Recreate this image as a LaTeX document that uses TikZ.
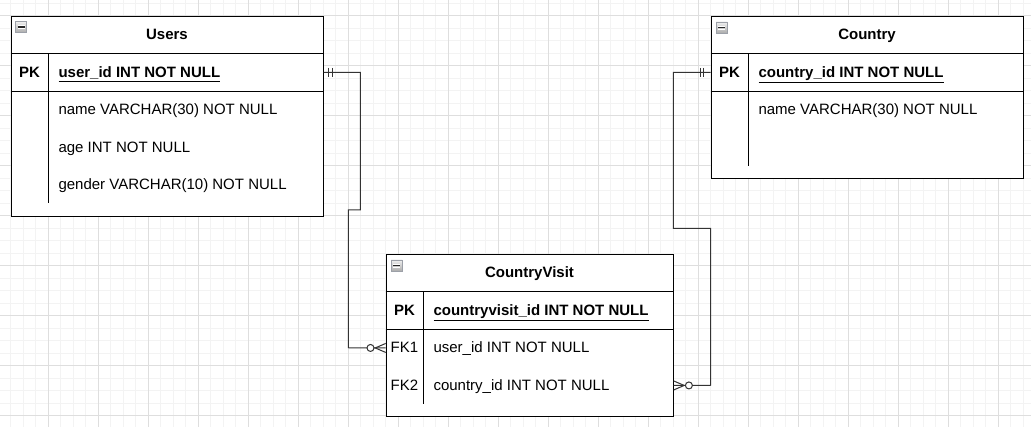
\documentclass[tikz,border=0pt]{standalone}
\usepackage{fontspec}
\setmainfont{Liberation Sans}
\usetikzlibrary{calc}
\definecolor{gridminor}{HTML}{F3F3F3}
\definecolor{gridmajor}{HTML}{DEDEDE}
\definecolor{conncol}{HTML}{333333}
\definecolor{iconedge}{HTML}{9CA0A8}
\begin{document}
\begin{tikzpicture}[x=1pt,y=-1pt,
  tablebox/.style={draw=black, line width=1pt, fill=white, rectangle, inner sep=0pt, anchor=north west},
  rowbox/.style={rectangle, inner sep=0pt, anchor=north west, minimum height=37.5pt},
  sep/.style={draw=black, line width=1pt},
  conn/.style={draw=conncol, line width=1pt},
  txt/.style={inner sep=0pt, text height=13.6pt, text depth=3.2pt, font=\fontsize{15}{18}\selectfont},
  titletxt/.style={txt, font=\fontsize{15}{18}\selectfont\bfseries},
  keytxt/.style={txt},
  fieldtxt/.style={txt, anchor=west},
  collapseicon/.pic={
    \shade[top color=white!88!gray, bottom color=gray!65] (0,0) rectangle (11,11);
    \draw[iconedge, line width=0.8pt] (0,0) rectangle (11,11);
    \draw[white, line width=0.8pt] (2,4) -- (9,4) (2,7) -- (9,7);
    \draw[black!85, line width=1.4pt] (2,5.5) -- (9,5.5);
  }]
% background and bounding box
\fill[white] (0,0) rectangle (1031,427);
\useasboundingbox (0,0) rectangle (1031,427);
% grid
\foreach \i in {0,...,83} \draw[gridminor, line width=1pt] ({-1.7+12.5*\i},0) -- ++(0,427);
\foreach \i in {0,...,34} \draw[gridminor, line width=1pt] (0,{3.5+12.5*\i}) -- ++(1031,0);
\foreach \i in {0,...,21} \draw[gridmajor, line width=1pt] ({-1.7+50*\i},0) -- ++(0,427);
\foreach \i in {0,...,8} \draw[gridmajor, line width=1pt] (0,{16+50*\i}) -- ++(1031,0);

% ---------------- Users ----------------
\node[tablebox, minimum width=312.6pt, minimum height=200pt] (users) at (10.7,16) {};
\node[rowbox, minimum width=312.6pt] (usersPK) at (10.7,53.5) {};
\draw[sep] (usersPK.north west) -- (usersPK.north east);
\draw[sep] (usersPK.south west) -- (usersPK.south east);
\draw[sep] (48.3,53.5) -- (48.3,203.5);
\pic at (15.5,21.5) {collapseicon};
\node[titletxt] (usersTitle) at (167,34.8) {Users};
\node[keytxt, font=\fontsize{15}{18}\selectfont\bfseries] (usersPKk) at (29.5,72.3) {PK};
\node[fieldtxt, font=\fontsize{15}{18}\selectfont\bfseries] (usersPKf) at (58.3,72.3) {\underline{user\_id INT NOT NULL}};
\node[fieldtxt] (usersF1) at (58.3,109.8) {name VARCHAR(30) NOT NULL};
\node[fieldtxt] (usersF2) at (58.3,147.3) {age INT NOT NULL};
\node[fieldtxt] (usersF3) at (58.3,184.8) {gender VARCHAR(10) NOT NULL};

% ---------------- Country ----------------
\node[tablebox, minimum width=312.6pt, minimum height=162.5pt] (country) at (710.7,16) {};
\node[rowbox, minimum width=312.6pt] (countryPK) at (710.7,53.5) {};
\draw[sep] (countryPK.north west) -- (countryPK.north east);
\draw[sep] (countryPK.south west) -- (countryPK.south east);
\draw[sep] (748.3,53.5) -- (748.3,166);
\pic at (716,22) {collapseicon};
\node[titletxt] (countryTitle) at (867,34.8) {Country};
\node[keytxt, font=\fontsize{15}{18}\selectfont\bfseries] (countryPKk) at (729.5,72.3) {PK};
\node[fieldtxt, font=\fontsize{15}{18}\selectfont\bfseries] (countryPKf) at (758.3,72.3) {\underline{country\_id INT NOT NULL}};
\node[fieldtxt] (countryF1) at (758.3,109.8) {name VARCHAR(30) NOT NULL};

% ---------------- CountryVisit ----------------
\node[tablebox, minimum width=287.6pt, minimum height=162.5pt] (cv) at (385.7,254) {};
\node[rowbox, minimum width=287.6pt] (cvPK) at (385.7,291.5) {};
\node[rowbox, minimum width=287.6pt] (cvFK1) at (385.7,329) {};
\node[rowbox, minimum width=287.6pt] (cvFK2) at (385.7,366.5) {};
\draw[sep] (cvPK.north west) -- (cvPK.north east);
\draw[draw=black, line width=1.6pt] (cvPK.south west) -- (cvPK.south east);
\draw[sep] (423.3,291.5) -- (423.3,404);
\pic at (391,260) {collapseicon};
\node[titletxt] (cvTitle) at (529.5,272.8) {CountryVisit};
\node[keytxt, font=\fontsize{15}{18}\selectfont\bfseries] (cvPKk) at (404.5,310.3) {PK};
\node[fieldtxt, font=\fontsize{15}{18}\selectfont\bfseries] (cvPKf) at (433.3,310.3) {\underline{countryvisit\_id INT NOT NULL}};
\node[keytxt] (cvFK1k) at (404.5,347.8) {FK1};
\node[fieldtxt] (cvFK1f) at (433.3,347.8) {user\_id INT NOT NULL};
\node[keytxt] (cvFK2k) at (404.5,385.3) {FK2};
\node[fieldtxt] (cvFK2f) at (433.3,385.3) {country\_id INT NOT NULL};

% ---------------- connectors ----------------
\coordinate (j1) at (360.3,210);
\coordinate (j2) at (348.3,347.75);
\coordinate (j3) at (673.3,228.3);
\coordinate (j4) at (710.7,385.25);
\draw[conn] (usersPK.east) -| (j1) -| (j2) -- (cvFK1.west);
\draw[conn] (countryPK.west) -| (j3) -| (j4) -- (cvFK2.east);

% mandatory one marks
\draw[conn] ($(usersPK.east)+(5,-4.5)$) -- ++(0,9);
\draw[conn] ($(usersPK.east)+(9,-4.5)$) -- ++(0,9);
\draw[conn] ($(countryPK.west)+(-10.5,-4.5)$) -- ++(0,9);
\draw[conn] ($(countryPK.west)+(-7,-4.5)$) -- ++(0,9);

% zero or many marks
\draw[conn] ($(cvFK1.west)+(0,-4.5)$) -- ($(cvFK1.west)+(-10.5,0)$) -- ($(cvFK1.west)+(0,4.5)$);
\draw[conn, fill=white] ($(cvFK1.west)+(-15.2,0)$) circle[radius=3.5pt];
\draw[conn] ($(cvFK2.east)+(0,-4.5)$) -- ($(cvFK2.east)+(10.5,0)$) -- ($(cvFK2.east)+(0,4.5)$);
\draw[conn, fill=white] ($(cvFK2.east)+(15.2,0)$) circle[radius=3.5pt];
\end{tikzpicture}
\end{document}
